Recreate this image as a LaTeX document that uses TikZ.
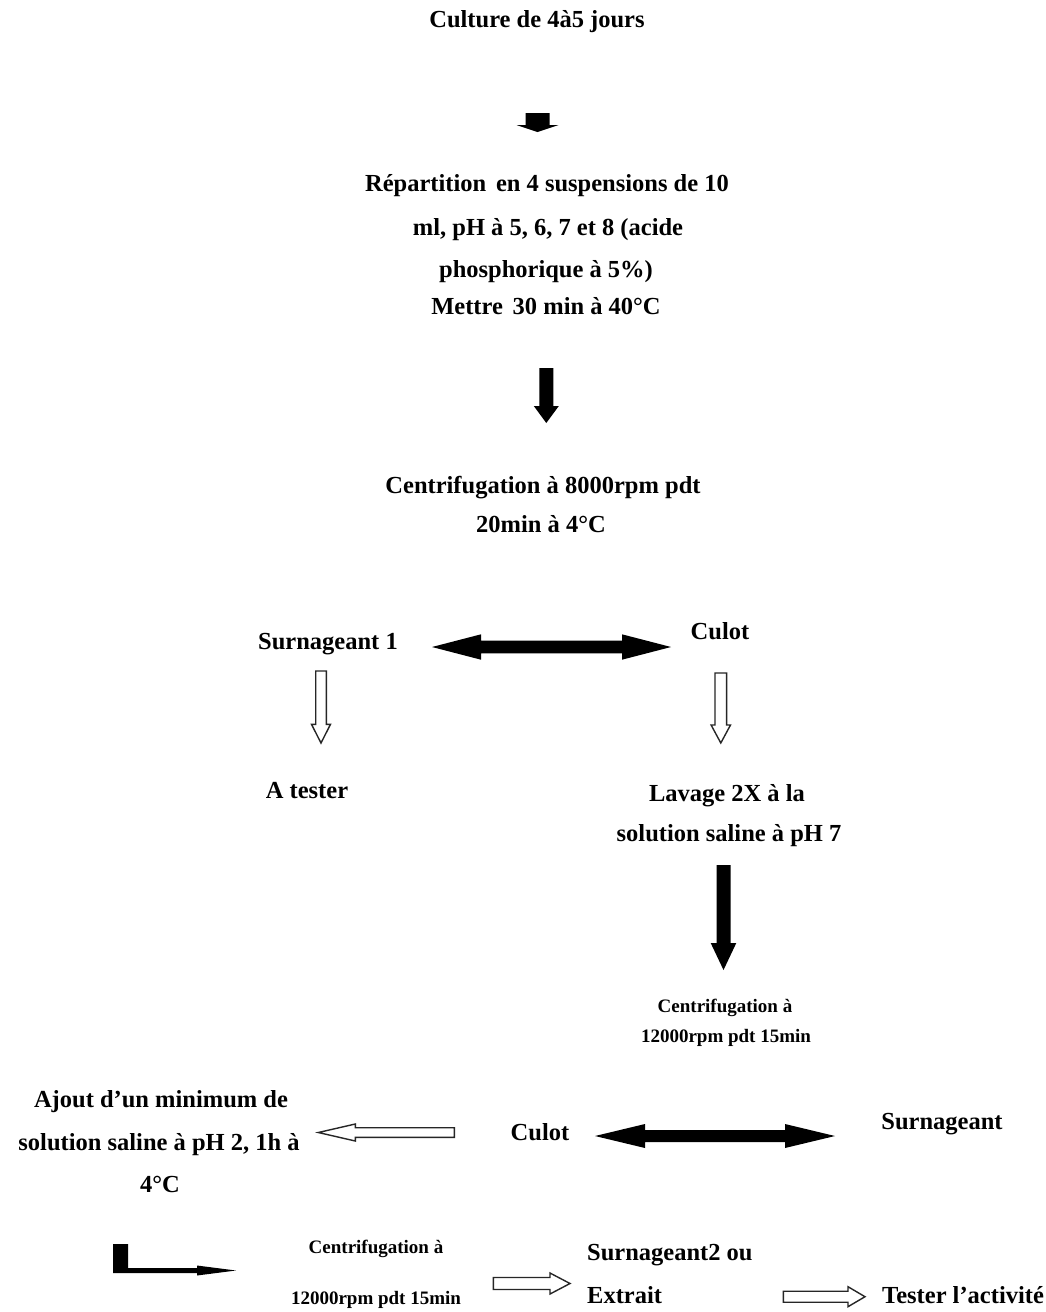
\documentclass[tikz,border=0pt]{standalone}
\usepackage{fontspec}
\setmainfont{Liberation Serif}
\usetikzlibrary{calc}
\newcommand{\bigf}{\fontsize{24.5}{29}\selectfont\bfseries}
\newcommand{\smallf}{\fontsize{19}{23}\selectfont\bfseries}
% block arrow: [style]{from}{to}{shaft half width}{head half width}{head length}
\newcommand{\blockarrow}[6][]{%
  \coordinate (ba-c) at ($(#3)!#6!(#2)$);
  \path[#1] ($(#2)!#4!90:(#3)$) -- ($(ba-c)!#4!90:(#3)$) -- ($(ba-c)!#5!90:(#3)$) -- (#3)
    -- ($(ba-c)!#5!-90:(#3)$) -- ($(ba-c)!#4!-90:(#3)$) -- ($(#2)!#4!-90:(#3)$) -- cycle;}
% double headed block arrow
\newcommand{\dblarrow}[6][]{%
  \coordinate (da-a) at ($(#2)!#6!(#3)$);
  \coordinate (da-b) at ($(#3)!#6!(#2)$);
  \path[#1] (#2) -- ($(da-a)!#5!90:(#3)$) -- ($(da-a)!#4!90:(#3)$) -- ($(da-b)!#4!90:(#3)$)
    -- ($(da-b)!#5!90:(#3)$) -- (#3) -- ($(da-b)!#5!-90:(#3)$) -- ($(da-b)!#4!-90:(#3)$)
    -- ($(da-a)!#4!-90:(#3)$) -- ($(da-a)!#5!-90:(#3)$) -- cycle;}
\tikzset{
  txt/.style={font=\bigf, anchor=base, inner sep=0pt},
  stxt/.style={font=\smallf, anchor=base, inner sep=0pt},
  blk/.style={fill=black, draw=none},
  hol/.style={draw=black!85, line width=1.4pt, fill=white, line join=miter},
}
\begin{document}
\begin{tikzpicture}[x=1pt,y=-1pt]
\useasboundingbox[fill=white] (0,0) rectangle (1046,1312);

% texts
\node[txt] (cult) at (537,27) {Culture de 4à5 jours};
\node[txt] (rep1) at (547,191) {Répartition\hspace{0.15em} en 4 suspensions de 10};
\node[txt] (rep2) at (548,235) {ml, pH à 5, 6, 7 et 8 (acide};
\node[txt] (rep3) at (546,277) {phosphorique à 5\%)};
\node[txt] (rep4) at (546,314) {Mettre\hspace{0.15em} 30 min à 40°C};
\node[txt] (cen1) at (543,493) {Centrifugation à 8000rpm pdt};
\node[txt] (cen1b) at (541,532) {20min à 4°C};
\node[txt] (surn1) at (328,649) {Surnageant 1};
\node[txt] (culot1) at (720,639) {Culot};
\node[txt] (atest) at (307,798) {A tester};
\node[txt] (lav1) at (727,801) {Lavage 2X à la};
\node[txt] (lav2) at (729,841) {solution saline à pH 7};
\node[stxt] (cen2) at (725,1012) {Centrifugation à};
\node[stxt] (cen2b) at (726,1042) {12000rpm pdt 15min};
\node[txt] (aj1) at (161,1107) {Ajout d’un minimum de};
\node[txt] (aj2) at (159,1150) {solution saline à pH 2, 1h à};
\node[txt] (aj3) at (160,1192) {4°C};
\node[txt] (culot2) at (540,1140) {Culot};
\node[txt] (surn) at (942,1129) {Surnageant};
\node[stxt] (cen3) at (376,1253) {Centrifugation à};
\node[stxt] (cen3b) at (376,1304) {12000rpm pdt 15min};
\node[txt, anchor=base west] (surn2) at (587,1260) {Surnageant2 ou};
\node[txt, anchor=base west] (extr) at (587,1303) {Extrait};
\node[txt, anchor=base west] (test) at (882,1303) {Tester l’activité};

% arrow end points
\coordinate (a1s) at (537.5,113);  \coordinate (a1e) at (537.5,132);
\coordinate (a2s) at (546.3,368);  \coordinate (a2e) at (546.3,423);
\coordinate (d1s) at (432,647);    \coordinate (d1e) at (671,647);
\coordinate (h1s) at (321,671);    \coordinate (h1e) at (321,743);
\coordinate (h2s) at (720.8,673);  \coordinate (h2e) at (720.8,743);
\coordinate (a3s) at (723.5,865);  \coordinate (a3e) at (723.5,970);
\coordinate (h3s) at (454.3,1132.5); \coordinate (h3e) at (318.3,1132.5);
\coordinate (d2s) at (595,1136);   \coordinate (d2e) at (835,1136);
\coordinate (h4s) at (493.3,1283.5); \coordinate (h4e) at (570,1283.5);
\coordinate (h5s) at (783.3,1296.7); \coordinate (h5e) at (865,1296.7);
\coordinate (ls) at (113,1244);    \coordinate (le) at (236,1270.5);

% arrows
\blockarrow[blk]{a1s}{a1e}{12pt}{21pt}{7pt}
\blockarrow[blk]{a2s}{a2e}{7pt}{12.5pt}{17pt}
\dblarrow[blk]{d1s}{d1e}{6.3pt}{12.7pt}{49pt}
\blockarrow[hol]{h1s}{h1e}{5.3pt}{9.5pt}{18.7pt}
\blockarrow[hol]{h2s}{h2e}{5.8pt}{9.7pt}{18pt}
\blockarrow[blk]{a3s}{a3e}{7pt}{12.8pt}{27pt}
\blockarrow[hol]{h3s}{h3e}{4.8pt}{8.5pt}{37pt}
\dblarrow[blk]{d2s}{d2e}{6pt}{12pt}{50pt}
\blockarrow[hol]{h4s}{h4e}{6pt}{10.5pt}{20pt}
\blockarrow[hol]{h5s}{h5e}{5.5pt}{10pt}{17pt}
% bent arrow
\fill[black] (ls) -- ++(15,0) -- ++(0,24) -- (197,1268) -- (197,1265.5) -- (le)
  -- (197,1275.5) -- (197,1273) -- (113,1273) -- cycle;
\end{tikzpicture}
\end{document}
